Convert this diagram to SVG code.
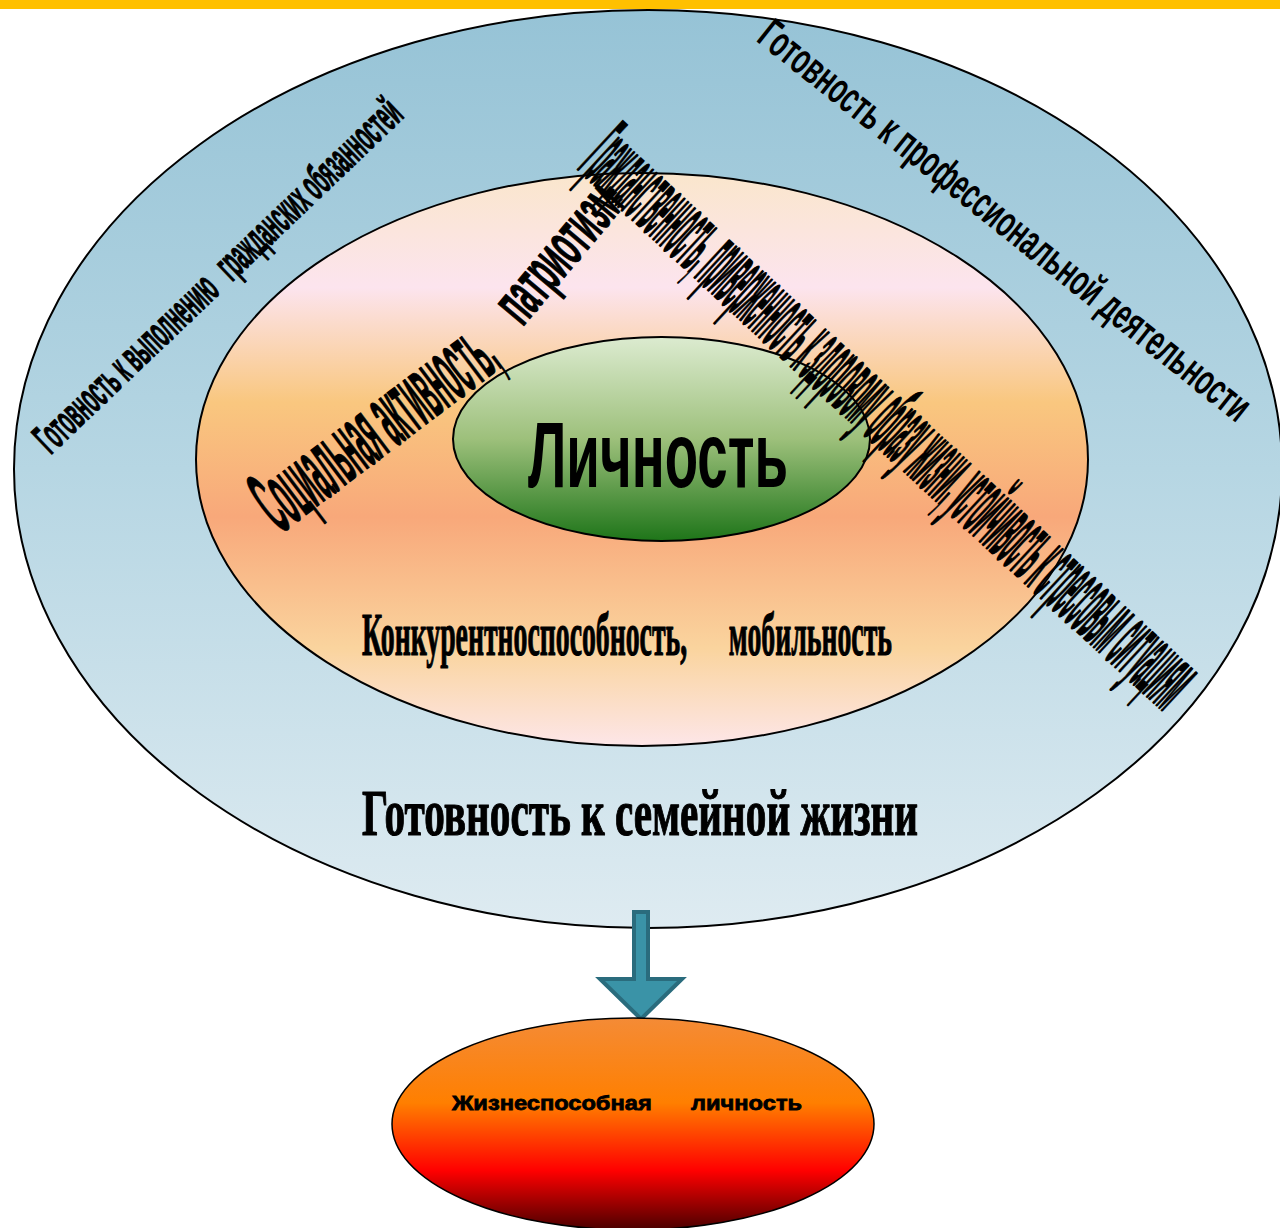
<svg xmlns="http://www.w3.org/2000/svg" width="1280" height="1228" viewBox="0 0 1280 1228">
<defs>
<linearGradient id="gOuter" x1="0" y1="0" x2="0" y2="1">
<stop offset="0" stop-color="#96C3D6"/>
<stop offset="0.5" stop-color="#B6D6E3"/>
<stop offset="1" stop-color="#DEEBF1"/>
</linearGradient>
<linearGradient id="gMid" x1="0" y1="0" x2="0" y2="1">
<stop offset="0" stop-color="#FAE6CC"/>
<stop offset="0.2" stop-color="#FCE4EE"/>
<stop offset="0.4" stop-color="#F9C77F"/>
<stop offset="0.6" stop-color="#F8A87A"/>
<stop offset="0.83" stop-color="#FAD49E"/>
<stop offset="1" stop-color="#FDE6E8"/>
</linearGradient>
<linearGradient id="gInner" x1="0" y1="0" x2="0" y2="1">
<stop offset="0" stop-color="#DCEBD0"/>
<stop offset="0.5" stop-color="#9DC07B"/>
<stop offset="1" stop-color="#1E7519"/>
</linearGradient>
<linearGradient id="gBottom" x1="0" y1="0" x2="0" y2="1">
<stop offset="0" stop-color="#F48B36"/>
<stop offset="0.4" stop-color="#FF7F00"/>
<stop offset="0.72" stop-color="#FF0000"/>
<stop offset="1" stop-color="#4A0000"/>
</linearGradient>
<style>
.ring{stroke:#000;stroke-width:2}
.sans{font-family:"Liberation Sans",Arial,sans-serif;fill:#000}
.serif{font-family:"Liberation Serif","Times New Roman",serif;fill:#000;font-weight:bold}
.heavy{stroke:#000;stroke-width:1.2;stroke-linejoin:round}
.xheavy{stroke:#000;stroke-width:2.4;stroke-linejoin:round}
.arrow{fill:#3A93A7;stroke:#2A6C7D;stroke-width:4;stroke-linejoin:miter}
</style>
</defs>
<rect x="0" y="0" width="1280" height="9" fill="#FFC000"/>
<g id="outer">
<ellipse class="ring" cx="648" cy="469" rx="634" ry="459" fill="url(#gOuter)"/>
</g>
<g id="middle">
<ellipse class="ring" cx="642" cy="459.5" rx="446" ry="286.5" fill="url(#gMid)"/>
</g>
<g id="inner">
<ellipse class="ring" cx="661.5" cy="439" rx="208.5" ry="102" fill="url(#gInner)"/>
<text class="sans" x="658" y="487" font-size="92" font-weight="bold" text-anchor="middle" textLength="260" lengthAdjust="spacingAndGlyphs">Личность</text>
</g>
<g id="label-civil">
<text class="sans heavy" transform="translate(228,286) rotate(-43.7)" font-size="44" font-weight="bold" text-anchor="middle" textLength="490" lengthAdjust="spacingAndGlyphs" xml:space="preserve">Готовность к выполнению   гражданских обязанностей</text>
</g>
<g id="label-prof">
<text class="sans" transform="translate(996,232) rotate(38.5)" font-size="44" font-weight="bold" text-anchor="middle" textLength="615" lengthAdjust="spacingAndGlyphs">Готовность к профессиональной деятельности</text>
</g>
<g id="label-social">
<text class="sans heavy" transform="translate(392,450) rotate(-37)" font-size="92" font-weight="bold" text-anchor="middle" textLength="280" lengthAdjust="spacingAndGlyphs">Социальная активность,</text>
</g>
<g id="label-patriot">
<text class="sans heavy" transform="translate(574,266) rotate(-50)" font-size="64" font-weight="bold" text-anchor="middle" textLength="160" lengthAdjust="spacingAndGlyphs">патриотизм</text>
</g>
<g id="label-citizen">
<text class="sans xheavy" transform="translate(870,440) rotate(42.8)" font-size="96" font-weight="bold" text-anchor="middle" textLength="800" lengthAdjust="spacingAndGlyphs">Гражданственность, приверженность к здоровому образу жизни, устойчивость к стрессовым ситуациям</text>
</g>
<g id="label-compet">
<text class="serif heavy" x="627" y="655" font-size="62" text-anchor="middle" textLength="530" lengthAdjust="spacingAndGlyphs" xml:space="preserve">Конкурентноспособность,      мобильность</text>
</g>
<g id="label-family">
<text class="serif heavy" x="640" y="835" font-size="66" text-anchor="middle" textLength="556" lengthAdjust="spacingAndGlyphs">Готовность к семейной жизни</text>
</g>
<g id="connectors">
<path class="arrow" d="M634,912 L648,912 L648,979 L682,979 L641,1019 L600,979 L634,979 Z"/>
</g>
<g id="result">
<ellipse cx="633" cy="1124" rx="241" ry="106" fill="url(#gBottom)" stroke="#000" stroke-width="1.5"/>
<text class="sans" x="627" y="1110" font-size="21" font-weight="bold" text-anchor="middle" textLength="350" lengthAdjust="spacingAndGlyphs" stroke="#000" stroke-width="0.8" xml:space="preserve">Жизнеспособная      личность</text>
</g>
</svg>
